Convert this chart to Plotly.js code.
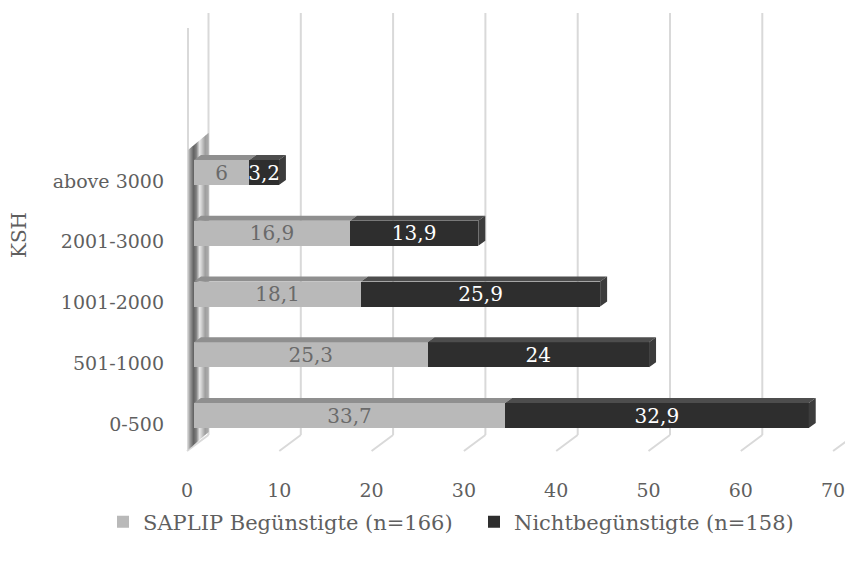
<!DOCTYPE html>
<html>
<head>
<meta charset="utf-8">
<script src="https://cdn.plot.ly/plotly-3.0.1.min.js"></script>
<style>
  html, body { margin: 0; padding: 0; background: #ffffff; }
  #chart { width: 845px; height: 562px; }
</style>
</head>
<body>
<div id="chart"></div>
<script>
// Share of respondents by KSH group (percent)
const categories = ['0-500', '501-1000', '1001-2000', '2001-3000', 'above 3000'];
const saplipValues = [33.7, 25.3, 18.1, 16.9, 6];
const nichtValues = [32.9, 24, 25.9, 13.9, 3.2];
const seriesNames = ['SAPLIP Begünstigte (n=166)', 'Nichtbegünstigte (n=158)'];
const xTickValues = [0, 10, 20, 30, 40, 50, 60, 70];
const axisTitle = 'KSH';

// ---- page geometry -------------------------------------------------------
const W = 845, H = 562;
const M = { l: 175, r: 0, t: 0, b: 92 };
const PX_X = 9.23;    // pixels per percent
const PX_Y = 60.75;   // pixels per category step
const X0_PX = 194;    // pixel of value 0 on the bar plane
const Y0_PX = 415.5;  // pixel of the first category centre
const xRange = [(M.l - X0_PX) / PX_X, (W - M.r - X0_PX) / PX_X];
const yRange = [(Y0_PX - (H - M.b)) / PX_Y, (Y0_PX - M.t) / PX_Y];

// pixel offsets expressed in axis units
const dX = p => p / PX_X;
const dY = p => p / PX_Y;

// pseudo-3D depth: bar thickness and wall / floor offsets
const BAR_HALF = dY(12.5);
const DEPTH_X = dX(7), DEPTH_Y = dY(5);
const BACK_X = dX(14.5), FRONT_X = dX(-7), FRONT_Y = dY(-8.5);
const WALL_TOP_BACK = dY(Y0_PX - 13), FLOOR_BACK = dY(Y0_PX - 435), FLOOR_FRONT = dY(Y0_PX - 451);

const idx = categories.map((_, i) => i);
const fmt = v => String(v).replace('.', ',');
const totals = idx.map(i => saplipValues[i] + nichtValues[i]);

const LIGHT = '#b9b9b9', LIGHT_TOP = '#8f8f8f';
const DARK = '#2e2e2e', DARK_TOP = '#4d4d4d', DARK_SIDE = '#3c3c3c';
const FONT = 'DejaVu Serif';
const TEXT_GREY = '#5f5f5f';

// top face polygons of each stacked segment
function topFaces(starts, ends) {
  const xs = [], ys = [];
  idx.forEach(i => {
    const a = starts[i], b = ends[i], y = i + BAR_HALF;
    xs.push(a, b, b + DEPTH_X, a + DEPTH_X, a, null);
    ys.push(y, y, y + DEPTH_Y, y + DEPTH_Y, y, null);
  });
  return { xs, ys };
}
const lightTop = topFaces(idx.map(() => 0), saplipValues);
const darkTop = topFaces(saplipValues, totals);

// right-hand end caps of the stacks
const sideX = [], sideY = [];
idx.forEach(i => {
  const t = totals[i];
  sideX.push(t, t + DEPTH_X, t + DEPTH_X, t, t, null);
  sideY.push(i + BAR_HALF, i + BAR_HALF + DEPTH_Y, i - BAR_HALF + DEPTH_Y, i - BAR_HALF, i + BAR_HALF, null);
});

const traces = [
  {
    type: 'bar', orientation: 'h', name: seriesNames[0],
    y: idx, x: saplipValues, width: 2 * BAR_HALF,
    marker: { color: LIGHT, line: { width: 0 } },
    text: saplipValues.map(fmt), textposition: 'inside', insidetextanchor: 'middle',
    constraintext: 'none', textangle: 0,
    textfont: { family: FONT, size: 20, color: '#6a6a6a' },
    hoverinfo: 'skip'
  },
  {
    type: 'bar', orientation: 'h', name: seriesNames[1],
    y: idx, x: nichtValues, width: 2 * BAR_HALF,
    marker: { color: DARK, line: { width: 0 } },
    text: nichtValues.map(fmt), textposition: 'inside', insidetextanchor: 'middle',
    constraintext: 'none', textangle: 0,
    textfont: { family: FONT, size: 20, color: '#ffffff' },
    hoverinfo: 'skip'
  },
  { type: 'scatter', mode: 'lines', x: lightTop.xs, y: lightTop.ys, fill: 'toself',
    fillcolor: LIGHT_TOP, line: { width: 0 }, showlegend: false, hoverinfo: 'skip' },
  { type: 'scatter', mode: 'lines', x: darkTop.xs, y: darkTop.ys, fill: 'toself',
    fillcolor: DARK_TOP, line: { width: 0 }, showlegend: false, hoverinfo: 'skip' },
  { type: 'scatter', mode: 'lines', x: sideX, y: sideY, fill: 'toself',
    fillcolor: DARK_SIDE, line: { width: 0 }, showlegend: false, hoverinfo: 'skip' }
];

// ---- back-wall gridlines, floor diagonals and side wall ------------------
const GRID = '#d9d9d9';
const shapes = [];
xTickValues.forEach(v => {
  if (v < 70) {
    shapes.push({ type: 'line', xref: 'x', yref: 'y', layer: 'below',
      x0: v + BACK_X, x1: v + BACK_X, y0: FLOOR_BACK, y1: WALL_TOP_BACK,
      line: { color: GRID, width: 2 } });
  }
  shapes.push({ type: 'line', xref: 'x', yref: 'y', layer: 'below',
    x0: v + BACK_X, x1: v + FRONT_X, y0: FLOOR_BACK, y1: FLOOR_FRONT,
    line: { color: GRID, width: 2 } });
});
// front edge of the side wall
shapes.push({ type: 'line', xref: 'x', yref: 'y', layer: 'below',
  x0: FRONT_X + dX(1), x1: FRONT_X + dX(1), y0: FLOOR_FRONT, y1: dY(Y0_PX - 28),
  line: { color: GRID, width: 2 } });

// shaded side wall, built from thin stripes
const wallStops = [
  [0.00, '#cfcfcf'], [0.10, '#9a9a9a'], [0.28, '#4f4f4f'], [0.42, '#6a6a6a'],
  [0.58, '#e2e2e2'], [0.72, '#b0b0b0'], [0.86, '#7a7a7a'], [1.00, '#9c9c9c']
];
const hex = c => [1, 3, 5].map(k => parseInt(c.substr(k, 2), 16));
function wallColor(t) {
  for (let k = 1; k < wallStops.length; k++) {
    if (t <= wallStops[k][0]) {
      const [t0, c0] = wallStops[k - 1], [t1, c1] = wallStops[k];
      const f = (t - t0) / (t1 - t0), a = hex(c0), b = hex(c1);
      const m = a.map((q, j) => Math.round(q + (b[j] - q) * f));
      return `rgb(${m.join(',')})`;
    }
  }
  return wallStops[wallStops.length - 1][1];
}
const wallL = FRONT_X + dX(1), wallR = BACK_X;
const wallTopL = dY(Y0_PX - 150), wallTopR = dY(Y0_PX - 133);
const wallBotL = dY(Y0_PX - 450), wallBotR = dY(Y0_PX - 432);
const NSTRIPE = 20;
for (let s = 0; s < NSTRIPE; s++) {
  const f0 = s / NSTRIPE, f1 = (s + 1) / NSTRIPE;
  const xa = wallL + (wallR - wallL) * f0, xb = wallL + (wallR - wallL) * f1;
  const ta = wallTopL + (wallTopR - wallTopL) * f0, tb = wallTopL + (wallTopR - wallTopL) * f1;
  const ba = wallBotL + (wallBotR - wallBotL) * f0, bb = wallBotL + (wallBotR - wallBotL) * f1;
  shapes.push({ type: 'path', xref: 'x', yref: 'y', layer: 'below',
    path: `M${xa},${ba} L${xa},${ta} L${xb},${tb} L${xb},${bb} Z`,
    fillcolor: wallColor((f0 + f1) / 2), line: { width: 0 } });
}

const layout = {
  width: W, height: H,
  margin: M,
  paper_bgcolor: '#ffffff', plot_bgcolor: 'rgba(0,0,0,0)',
  barmode: 'stack', bargap: 0,
  font: { family: FONT, size: 19, color: TEXT_GREY },
  xaxis: {
    range: xRange, tickvals: xTickValues, ticktext: xTickValues.map(String),
    showgrid: false, zeroline: false, showline: false, ticks: '',
    ticklabelshift: -7, ticklabelstandoff: 7, ticklabeloverflow: 'allow',
    tickfont: { family: FONT, size: 19, color: TEXT_GREY }, fixedrange: true
  },
  yaxis: {
    // category labels sit on the front plane, slightly below the bar centres
    range: yRange, tickvals: idx.map(i => i + FRONT_Y), ticktext: categories,
    showgrid: false, zeroline: false, showline: false, ticks: '',
    ticklabelstandoff: 10,
    tickfont: { family: FONT, size: 19, color: TEXT_GREY },
    title: { text: axisTitle, font: { family: FONT, size: 20, color: TEXT_GREY }, standoff: 20 },
    fixedrange: true
  },
  shapes: shapes,
  showlegend: true,
  // legend row below the plot; anchored just left of the plot area so it may use the full width
  legend: {
    orientation: 'h',
    x: (172 - M.l) / (W - M.l - M.r), xanchor: 'left',
    y: ((H - M.b) - 522) / (H - M.t - M.b), yanchor: 'middle',
    entrywidth: 326, entrywidthmode: 'pixels',
    font: { family: FONT, size: 21, color: TEXT_GREY }, traceorder: 'normal',
    itemclick: false, itemdoubleclick: false
  }
};

Plotly.newPlot('chart', traces, layout, { displayModeBar: false, staticPlot: true });
</script>
</body>
</html>
